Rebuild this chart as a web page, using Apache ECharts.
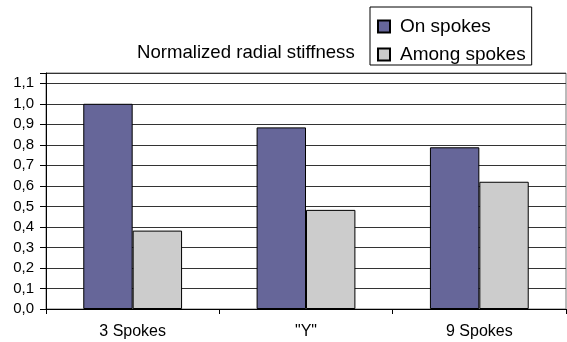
<!DOCTYPE html>
<html><head><meta charset="utf-8">
<script src="https://cdn.jsdelivr.net/npm/echarts@6/dist/echarts.min.js"></script>
<style>html,body{margin:0;padding:0;background:#fff}#c{width:567px;height:342px}</style>
</head><body><div id="c"></div>
<script>
var categories = ['3 Spokes', '"Y"', '9 Spokes'];
var onSpokes = [1.0, 0.885, 0.788];
var amongSpokes = [0.382, 0.483, 0.62];
var seriesNames = ['On spokes', 'Among spokes'];
var titleText = 'Normalized radial stiffness';

var chart = echarts.init(document.getElementById('c'));
var font = 'Liberation Sans, Arial, sans-serif';
chart.setOption({
  animation: false,
  title: { text: titleText, left: 137, top: 43, padding: 0,
    textStyle: { fontFamily: font, fontSize: 18.6, fontWeight: 'normal', color: '#000' } },
  legend: {
    orient: 'vertical', left: 370, top: 7, padding: [10, 6, 1, 7],
    itemWidth: 12, itemHeight: 12, itemGap: 9, icon: 'rect',
    borderColor: '#000', borderWidth: 1,
    textStyle: { fontFamily: font, fontSize: 19, color: '#000', padding: [0, 0, 0, 5] },
    data: seriesNames
  },
  grid: { left: 46, right: 1, top: 73, bottom: 33, show: true, borderColor: '#777', borderWidth: 1 },
  xAxis: {
    type: 'category', data: categories,
    axisLine: { lineStyle: { color: '#000', width: 1 } },
    axisTick: { show: true, length: 5, lineStyle: { color: '#000' } },
    axisLabel: { fontFamily: font, fontSize: 16, color: '#000', margin: 15 }
  },
  yAxis: {
    type: 'value', min: 0, max: 1.15, interval: 0.1,
    axisLine: { show: true, lineStyle: { color: '#000', width: 1 } },
    axisTick: { show: true, length: 6, lineStyle: { color: '#000' } },
    splitLine: { lineStyle: { color: '#333', width: 1 } },
    axisLabel: { fontFamily: font, fontSize: 15, color: '#000', margin: 12,
      formatter: function (v) {
        var r = Math.round(v * 10);
        if (Math.abs(v * 10 - r) > 1e-6) return '';
        return (r / 10).toFixed(1).replace('.', ',');
      } }
  },
  series: [
    { name: seriesNames[0], type: 'bar', data: onSpokes, barGap: '0%', barCategoryGap: '43%',
      itemStyle: { color: '#666699', borderColor: '#000', borderWidth: 1 } },
    { name: seriesNames[1], type: 'bar', data: amongSpokes, barGap: '0%', barCategoryGap: '43%',
      itemStyle: { color: '#CCCCCC', borderColor: '#000', borderWidth: 1 } }
  ]
});
</script></body></html>
